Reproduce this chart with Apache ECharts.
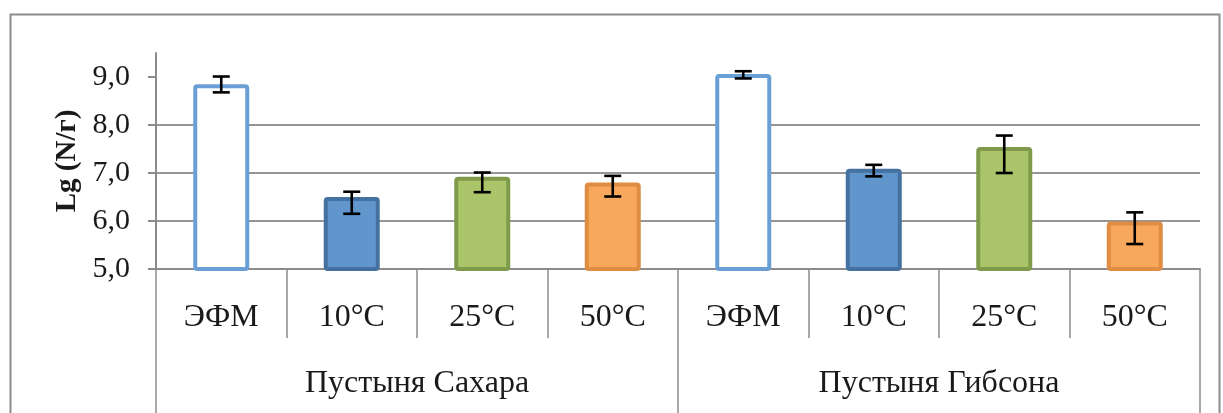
<!DOCTYPE html>
<html>
<head>
<meta charset="utf-8">
<script src="https://cdn.jsdelivr.net/npm/echarts@6/dist/echarts.min.js"></script>
<style>html,body{margin:0;padding:0;background:#fff;}#c{width:1223px;height:413px;}</style>
</head>
<body>
<div id="c"></div>
<script>
var categories = ['ЭФМ', '10°C', '25°C', '50°C', 'ЭФМ', '10°C', '25°C', '50°C'];
var groups = ['Пустыня Сахара', 'Пустыня Гибсона'];
var values = [8.85, 6.50, 6.92, 6.80, 9.06, 7.09, 7.54, 5.99];
var errLow = [8.68, 6.15, 6.60, 6.51, 8.97, 6.93, 7.00, 5.52];
var errHigh = [9.01, 6.61, 7.01, 6.94, 9.12, 7.17, 7.78, 6.18];
var yTicks = [5, 6, 7, 8, 9];

var fills = ['#ffffff', '#6096cc', '#aac46a', '#f8a85c'];
var borders = ['#6a9fd6', '#44719f', '#7f9a4a', '#e08c42'];

var chart = echarts.init(document.getElementById('c'), null, {renderer: 'canvas'});
var serif = '"Liberation Serif", "DejaVu Serif", serif';

var barData = values.map(function (v, i) {
  var k = i % 4;
  return {value: v, itemStyle: {color: fills[k], borderColor: borders[k], borderWidth: 4, borderRadius: 2}};
});
var errData = values.map(function (v, i) { return [i, errLow[i], errHigh[i]]; });

chart.setOption({
  animation: false,
  graphic: [{
    type: 'rect', left: 8, top: 12,
    shape: {width: 1209, height: 430},
    style: {fill: 'none', stroke: '#8c8c8c', lineWidth: 2},
    z: -10
  }],
  grid: {left: 156, right: 23, top: 53, bottom: 144},
  xAxis: [{
    type: 'category',
    data: categories,
    axisLine: {lineStyle: {color: '#8c8c8c', width: 2}},
    axisTick: {show: true, interval: 0, length: 69, lineStyle: {color: '#8c8c8c', width: 1.5}},
    axisLabel: {interval: 0, margin: 33, fontFamily: serif, fontSize: 32, color: '#1a1a1a'}
  }, {
    type: 'category',
    data: groups,
    position: 'bottom',
    axisLine: {show: false},
    axisTick: {show: true, interval: 0, length: 150, lineStyle: {color: '#8c8c8c', width: 1.5}},
    axisLabel: {interval: 0, margin: 99, fontFamily: serif, fontSize: 32, color: '#1a1a1a'}
  }],
  yAxis: {
    type: 'value',
    min: 5, max: 9.5, interval: 1,
    name: 'Lg (N/г)',
    nameLocation: 'middle',
    nameGap: 74,
    nameRotate: 90,
    nameTextStyle: {fontFamily: serif, fontSize: 29, fontWeight: 'bold', color: '#1a1a1a'},
    axisLine: {show: true, lineStyle: {color: '#8c8c8c', width: 2}},
    axisTick: {show: true, inside: false, length: 8, customValues: yTicks, lineStyle: {color: '#8c8c8c', width: 2}},
    axisLabel: {
      customValues: yTicks, margin: 26, fontFamily: serif, fontSize: 30, color: '#1a1a1a',
      formatter: function (v) { return v.toFixed(1).replace('.', ','); }
    },
    splitLine: {show: true, showMaxLine: false, lineStyle: {color: '#959595', width: 2}}
  },
  series: [{
    type: 'bar',
    xAxisIndex: 0,
    data: barData,
    barWidth: 56
  }, {
    type: 'custom',
    xAxisIndex: 0,
    data: errData,
    z: 10,
    renderItem: function (params, api) {
      var i = api.value(0);
      var lo = api.coord([i, api.value(1)]);
      var hi = api.coord([i, api.value(2)]);
      var h = 8.5;
      var st = {stroke: '#000', lineWidth: 2.6};
      return {
        type: 'group',
        children: [
          {type: 'line', shape: {x1: lo[0], y1: lo[1], x2: hi[0], y2: hi[1]}, style: st},
          {type: 'line', shape: {x1: hi[0] - h, y1: hi[1], x2: hi[0] + h, y2: hi[1]}, style: st},
          {type: 'line', shape: {x1: lo[0] - h, y1: lo[1], x2: lo[0] + h, y2: lo[1]}, style: st}
        ]
      };
    }
  }]
});
</script>
</body>
</html>
